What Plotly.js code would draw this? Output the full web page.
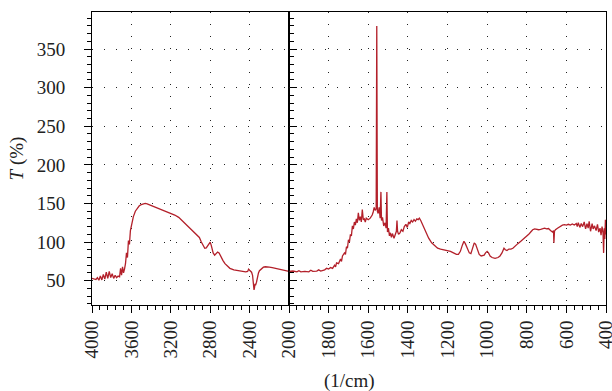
<!DOCTYPE html>
<html>
<head>
<meta charset="utf-8">
<script src="https://cdn.plot.ly/plotly-3.0.1.min.js"></script>
<style>html,body{margin:0;padding:0;background:#fff;}#chart{width:612px;height:391px;}</style>
</head>
<body>
<div id="chart"></div>
<script>
// High wavenumber part (4000 -> 2000 1/cm), compressed scale
const wavenumberHigh = [4000,3980,3960,3945,3930,3915,3900,3885,3870,3855,3840,3825,3810,3795,3780,3765,3750,3735,3720,3710,3700,3690,3680,3670,3660,3650,3640,3630,3620,3610,3600,3580,3560,3540,3520,3500,3480,3460,3440,3420,3400,3380,3360,3340,3320,3300,3280,3260,3240,3220,3200,3160,3120,3080,3040,3000,2960,2930,2910,2890,2870,2855,2840,2825,2810,2800,2790,2780,2770,2755,2740,2725,2710,2700,2685,2670,2650,2630,2600,2560,2520,2480,2440,2420,2410,2400,2390,2380,2370,2360,2355,2350,2345,2340,2330,2320,2310,2300,2280,2260,2240,2220,2200,2170,2140,2110,2080,2050,2020,2000];
const transmHigh = [53,52,51.5,54,50.5,56,51,58,52,61,53,62,54,59,53,57,54,56,55,66,57,68,60,65,72,86,80,102,97,115,122,133,140,144,147,148.5,149.5,150,149.5,148.5,147,146,145,144,143,142.5,142,141,140,139,138,135,132,127,122,117,112,109,106,100,94,92,92.5,95,99,100,96,91,86,83,85,87,86,83,79,76,72,69,66,64,63,62,61.5,62,65,63.5,62,61,57,45,38,41,46,44,48,55,60,63,66,67.5,68,68,67.5,67,66,65,64,63,62.5,62];

// Low wavenumber part (2000 -> 400 1/cm)
const wavenumberLow = [2000,1980,1960,1950,1940,1920,1900,1890,1880,1860,1850,1840,1820,1810,1800,1790,1780,1770,1765,1760,1750,1740,1735,1730,1720,1715,1710,1705,1700,1695,1690,1685,1680,1675,1670,1665,1660,1655,1650,1645,1640,1635,1630,1625,1620,1615,1610,1600,1590,1580,1575,1570,1565,1560,1557,1554,1550,1545,1540,1536,1533,1528,1522,1515,1510,1506,1503,1498,1493,1488,1483,1478,1470,1463,1458,1455,1452,1447,1440,1433,1425,1418,1410,1403,1396,1390,1383,1376,1369,1362,1355,1348,1342,1335,1325,1310,1295,1280,1265,1250,1235,1220,1200,1185,1170,1155,1145,1135,1125,1117,1110,1100,1090,1082,1075,1065,1058,1050,1040,1030,1022,1015,1008,1000,993,985,975,960,945,935,925,915,908,900,890,880,870,860,845,830,815,800,790,780,770,760,750,740,730,720,710,700,690,680,670,665,663,660,655,645,635,620,610,600,590,580,570,560,550,545,540,532,525,518,510,503,496,490,485,478,470,465,458,450,443,437,430,425,420,415,412,409,406,403,401,400];
const transmLow = [62,62.5,61.5,63,61.5,62,61.5,63.5,62,62.5,64,62.5,64,66,65,67,66,70,68,73,72,78,75,82,86,84,94,92,103,100,110,108,121,117,126,122,130,125,138,128,133,126,142,129,130,126,131,129,131,135,139,145,141,143,380,140,137,145,131,165,128,132,121,125,118,165,113,118,108,112,106,111,105,110,114,128,114,110,112,116,114,120,123,119,126,124,128,126,129,127,130,129,131,128,122,114,105,99,95,92,91,90,89,88,86,84,84,88,96,101,98,92,86,85,90,99,97,90,84,82,83,83,86,88,86,82,80,79,80,82,86,92,90,89,91,91,92,95,98,101,104,107,110,113,116,117,116.5,116,116.5,117,118,117,117.5,115,113,115,99,114,116,118,120,122,122.5,122,123,122,123.5,122,124,120,125,119,124,120,126,117,124,118,127,114,124,117,121,115,123,113,118,109,120,112,86,118,104,129,110,117];

const ticksHigh = [4000,3600,3200,2800,2400,2000];
const ticksLow = [1800,1600,1400,1200,1000,800,600,400];
const ticksY = [50,100,150,200,250,300,350];

const lineColor = '#b3202a';
const fontFamily = 'Liberation Serif';
const split = 197/514;

const gridStyle = {showgrid:true, gridcolor:'#222', gridwidth:1, griddash:'1px,11px'};

const traces = [
  {x: wavenumberHigh, y: transmHigh, xaxis:'x', yaxis:'y', type:'scatter', mode:'lines',
   line:{color:lineColor, width:1.3}, hoverinfo:'skip'},
  {x: wavenumberLow, y: transmLow, xaxis:'x2', yaxis:'y', type:'scatter', mode:'lines',
   line:{color:lineColor, width:1.3}, hoverinfo:'skip'}
];

const xCommon = Object.assign({
  ticks:'outside', ticklen:7, tickwidth:1, tickcolor:'#000',
  showline:true, linecolor:'#000', linewidth:1, mirror:true,
  tickangle:-90, zeroline:false, anchor:'y', ticklabeloverflow:'allow',
  tickfont:{family:fontFamily, size:19, color:'#222'}
}, gridStyle);

const layout = {
  width:612, height:391,
  margin:{l:92, r:6, t:12, b:86},
  paper_bgcolor:'#fff', plot_bgcolor:'#fff',
  showlegend:false,
  font:{family:fontFamily, color:'#222'},
  xaxis: Object.assign({}, xCommon, {
    domain:[0, split], range:[4000,2000], tickmode:'array', tickvals:ticksHigh,
    minor:{dtick:80, tick0:0, ticklen:4, ticks:'outside', tickcolor:'#000', showgrid:false}
  }),
  xaxis2: Object.assign({}, xCommon, {
    domain:[split, 1], range:[2000,400], tickmode:'array', tickvals:ticksLow,
    minor:{dtick:40, tick0:0, ticklen:4, ticks:'outside', tickcolor:'#000', showgrid:false}
  }),
  yaxis: Object.assign({
    range:[18.5, 398], tickmode:'array', tickvals:ticksY,
    ticks:'outside', ticklen:7, tickwidth:1, tickcolor:'#000',
    showline:true, linecolor:'#000', linewidth:1, mirror:'all', zeroline:false,
    ticklabelstandoff:15,
    tickfont:{family:fontFamily, size:19, color:'#222'},
    minor:{dtick:10, tick0:0, ticklen:4, ticks:'outside', tickcolor:'#000', showgrid:false},
    title:{text:'<i>T</i> (%)', font:{family:fontFamily, size:19, color:'#222'}, standoff:8}
  }, gridStyle),
  shapes:[
    {type:'line', xref:'x2', yref:'paper', x0:2000, x1:2000, y0:0, y1:1, line:{color:'#000', width:1.2}}
  ],
  annotations:[
    {text:'(1/cm)', xref:'paper', yref:'paper', x:0.5, y:0, yshift:-76, xanchor:'center', yanchor:'middle',
     showarrow:false, font:{family:fontFamily, size:19, color:'#222'}}
  ]
};

Plotly.newPlot('chart', traces, layout, {displayModeBar:false, staticPlot:true});
</script>
</body>
</html>
